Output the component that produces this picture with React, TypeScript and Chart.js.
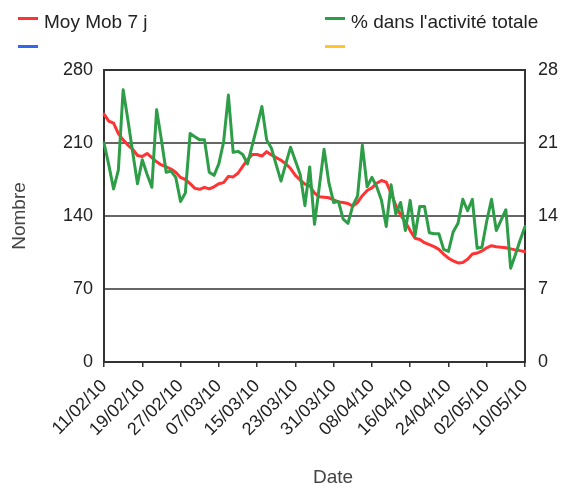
import React, { useEffect, useRef } from 'react';
import { Chart, registerables } from 'chart.js';

Chart.register(...registerables);

const dates = [
  '11/02/10', '12/02/10', '13/02/10', '14/02/10', '15/02/10', '16/02/10', '17/02/10', '18/02/10', '19/02/10', '20/02/10',
  '21/02/10', '22/02/10', '23/02/10', '24/02/10', '25/02/10', '26/02/10', '27/02/10', '28/02/10',
  '01/03/10', '02/03/10', '03/03/10', '04/03/10', '05/03/10', '06/03/10', '07/03/10', '08/03/10', '09/03/10', '10/03/10',
  '11/03/10', '12/03/10', '13/03/10', '14/03/10', '15/03/10', '16/03/10', '17/03/10', '18/03/10', '19/03/10', '20/03/10',
  '21/03/10', '22/03/10', '23/03/10', '24/03/10', '25/03/10', '26/03/10', '27/03/10', '28/03/10', '29/03/10', '30/03/10',
  '31/03/10',
  '01/04/10', '02/04/10', '03/04/10', '04/04/10', '05/04/10', '06/04/10', '07/04/10', '08/04/10', '09/04/10', '10/04/10',
  '11/04/10', '12/04/10', '13/04/10', '14/04/10', '15/04/10', '16/04/10', '17/04/10', '18/04/10', '19/04/10', '20/04/10',
  '21/04/10', '22/04/10', '23/04/10', '24/04/10', '25/04/10', '26/04/10', '27/04/10', '28/04/10', '29/04/10', '30/04/10',
  '01/05/10', '02/05/10', '03/05/10', '04/05/10', '05/05/10', '06/05/10', '07/05/10', '08/05/10', '09/05/10', '10/05/10',
];

const moyMob7j = [
  237.7, 231, 229, 219, 213, 208, 204, 198, 197, 200,
  196, 192, 189, 187, 185, 182, 177, 175, 171, 166.5,
  165.6, 167.5, 166, 168, 171, 172, 178, 177.5, 181, 187.5,
  194, 199, 199, 197.5, 201.7, 198.5, 196, 193.5, 190, 185.5,
  179, 174.5, 170.5, 169, 162, 158.5, 158, 157.5, 155.5, 153.5,
  153, 152, 149.5, 153, 159.5, 164.5, 167, 171.4, 174, 172.5,
  162, 150, 141, 134, 126, 118.6, 117.5, 114.4, 112.5, 110.6,
  108, 103.5, 99.5, 97, 95, 95.5, 98.5, 103.5, 104.5, 106.5,
  109.5, 111.5, 110.5, 110, 109.5, 108.5, 107.5, 106.8, 105.8,
];

const pctActivite = [
  21.0, 18.9, 16.6, 18.4, 26.1, 23.2, 20.1, 17.1, 19.4, 18.0,
  16.75, 24.2, 21.3, 18.2, 18.3, 17.7, 15.4, 16.2, 21.9, 21.6,
  21.3, 21.3, 18.2, 17.9, 19.0, 21.1, 25.6, 20.1, 20.2, 19.9,
  19.0, 20.8, 22.6, 24.5, 21.3, 20.5, 18.9, 17.35, 19.0, 20.6,
  19.3, 18.0, 15.0, 18.7, 13.2, 16.8, 20.4, 17.2, 15.3, 15.4,
  13.7, 13.3, 15.0, 15.9, 20.8, 16.8, 17.7, 16.8, 15.5, 13.0,
  17.0, 14.2, 15.3, 12.6, 15.5, 12.1, 14.9, 14.9, 12.4, 12.3,
  12.3, 10.8, 10.6, 12.5, 13.3, 15.6, 14.5, 15.6, 10.9, 11.0,
  13.5, 15.6, 12.6, 13.6, 14.6, 9.0, 10.3, 11.7, 13.0,
];

const emptySeries1: number[] = [];
const emptySeries2: number[] = [];

const seriesLabels = ['Moy Mob 7 j', "% dans l'activité totale", '', ''];
const seriesColors = ['#ff3333', '#2e9d48', '#3366ee', '#ffc629'];
const leftAxisRange = [0, 280];
const rightAxisRange = [0, 28];
const leftStep = 70;
const rightStep = 7;
const xLabelEvery = 8;
const yTitle = 'Nombre';
const xTitle = 'Date';

const FONT = '"Liberation Sans", Arial, sans-serif';

export default function App() {
  const ref = useRef<HTMLCanvasElement>(null);

  useEffect(() => {
    if (!ref.current) return;
    Chart.defaults.font.family = FONT;
    const lineCommon = { borderWidth: 3, pointRadius: 0, tension: 0, borderJoinStyle: 'round', borderCapStyle: 'round' };
    const chart = new Chart(ref.current, {
      type: 'line',
      data: {
        labels: dates,
        datasets: [
          {
            ...lineCommon, label: seriesLabels[0], data: moyMob7j, borderColor: seriesColors[0],
            backgroundColor: seriesColors[0], yAxisID: 'y', order: 1,
          },
          {
            ...lineCommon, label: seriesLabels[1], data: pctActivite, borderColor: seriesColors[1],
            backgroundColor: seriesColors[1], yAxisID: 'y1', order: 0,
          },
          {
            ...lineCommon, label: seriesLabels[2], data: emptySeries1, borderColor: seriesColors[2],
            backgroundColor: seriesColors[2], yAxisID: 'y', order: 2,
          },
          {
            ...lineCommon, label: seriesLabels[3], data: emptySeries2, borderColor: seriesColors[3],
            backgroundColor: seriesColors[3], yAxisID: 'y1', order: 3,
          },
        ],
      } as any,
      options: {
        animation: false,
        responsive: false,
        maintainAspectRatio: false,
        layout: { padding: { top: 70, left: 0, right: 0, bottom: 0 } },
        plugins: { legend: { display: false }, tooltip: { enabled: false } },
        scales: {
          x: {
            type: 'category',
            offset: false,
            grid: {
              drawOnChartArea: false,
              drawTicks: true,
              tickLength: 5,
              color: (c: any) => (c.index % xLabelEvery === 0 ? '#333' : 'rgba(0,0,0,0)'),
              lineWidth: 1.5,
            },
            border: { display: true, color: '#333', width: 2 },
            ticks: {
              autoSkip: false,
              maxRotation: 45,
              minRotation: 45,
              padding: 4,
              color: '#222',
              font: { family: FONT, size: 18, lineHeight: 1.9 },
              callback: (_v: any, i: number) => (i % xLabelEvery === 0 ? dates[i] : ''),
            },
            afterFit: (s: any) => { s.height = 122; },
          },
          y: {
            position: 'left',
            min: leftAxisRange[0],
            max: leftAxisRange[1],
            ticks: { stepSize: leftStep, padding: 11, color: '#222', font: { family: FONT, size: 18 } },
            grid: {
              drawTicks: false,
              color: (c: any) => (c.tick && (c.tick.value === 280 || c.tick.value === 0) ? '#333' : '#666'),
              lineWidth: 2,
            },
            border: { display: true, color: '#333', width: 2 },
            title: {
              display: true, text: yTitle, color: '#444',
              font: { family: FONT, size: 19 }, padding: { top: 8.5, bottom: 0 },
            },
            afterFit: (s: any) => { s.width = 104; },
          },
          y1: {
            position: 'right',
            min: rightAxisRange[0],
            max: rightAxisRange[1],
            ticks: { stepSize: rightStep, padding: 13, color: '#222', font: { family: FONT, size: 18 } },
            grid: { drawOnChartArea: false, drawTicks: false },
            border: { display: true, color: '#333', width: 2 },
            afterFit: (s: any) => { s.width = 36; },
          },
        },
      } as any,
    });
    return () => chart.destroy();
  }, []);

  const legendPos = [
    { left: 18, top: 17 },
    { left: 325, top: 17 },
    { left: 18, top: 45 },
    { left: 325, top: 45 },
  ];

  return (
    <div style={{ position: 'fixed', left: 0, top: 0, width: 561, height: 484, background: '#fff', fontFamily: FONT }}>
      <canvas ref={ref} width={561} height={484} style={{ position: 'absolute', left: 0, top: 0, width: 561, height: 484 }} />
      {seriesLabels.map((lab, i) => (
        <React.Fragment key={i}>
          <div style={{ position: 'absolute', left: legendPos[i].left, top: legendPos[i].top, width: 20, height: 3, background: seriesColors[i] }} />
          {lab ? (
            <div style={{ position: 'absolute', left: legendPos[i].left + 26, top: legendPos[i].top - 5, fontSize: 19, lineHeight: '19px', color: '#222', whiteSpace: 'nowrap' }}>{lab}</div>
          ) : null}
        </React.Fragment>
      ))}
      <div style={{ position: 'absolute', left: 313, top: 467, fontSize: 19, lineHeight: '19px', color: '#444' }}>{xTitle}</div>
    </div>
  );
}
